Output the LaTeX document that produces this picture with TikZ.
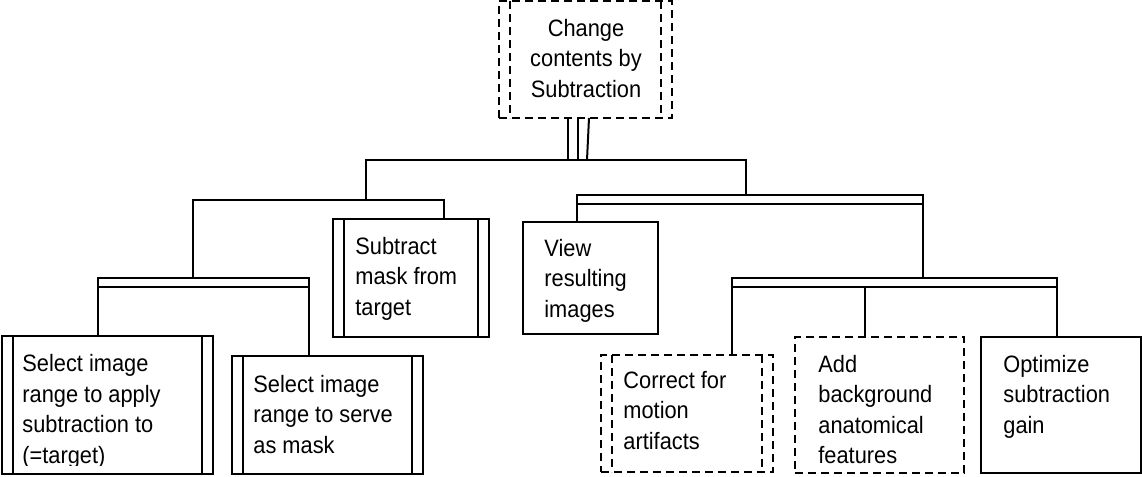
\documentclass[tikz,border=0pt]{standalone}
\usepackage{fontspec}
\newfontfamily\narrowfont[FakeStretch=0.92]{Liberation Sans}
\usetikzlibrary{positioning}

\tikzset{
  frame/.style={draw,line width=1pt,inner sep=0pt,outer sep=0pt,anchor=north west},
  dashframe/.style={frame,dash pattern=on 4pt off 2.5pt},
  sides/.style={path picture={
    \draw[line width=1pt,#1] ([xshift=5.5pt]path picture bounding box.north west) -- ([xshift=5.5pt]path picture bounding box.south west)
      ([xshift=-5.5pt]path picture bounding box.north east) -- ([xshift=-5.5pt]path picture bounding box.south east);}},
  sides/.default={},
  tasktext/.style={inner sep=0pt,anchor=base west,align=left,font=\narrowfont\fontsize{11.85}{15.25}\selectfont},
  link/.style={line width=1pt}
}

\begin{document}
\begin{tikzpicture}[x=0.5pt,y=-0.5pt]
\useasboundingbox (0,0) rectangle (1142,477);
% boxes (text nodes sit on the baseline of their last line)
\node[dashframe,sides={dash pattern=on 4pt off 2.5pt},minimum width=86.5pt,minimum height=58.5pt] (root) at (499,1) {};
\node[tasktext,anchor=base,align=center] (rootT) at (586,97) {Change\\contents by\\Subtraction};
\node[frame,sides,minimum width=105.5pt,minimum height=69pt] (sel) at (2,336) {};
\begin{scope}
\clip (2,336) rectangle (213,465);
\node[tasktext] (selT) at (22,463) {Select image\\range to apply\\subtraction to\\(=target)};
\end{scope}
\node[frame,sides,minimum width=95.5pt,minimum height=59pt] (mask) at (232,356) {};
\node[tasktext] (maskT) at (253,453) {Select image\\range to serve\\as mask};
\node[frame,sides,minimum width=78pt,minimum height=59pt] (sub) at (333,219) {};
\node[tasktext] (subT) at (355,315) {Subtract\\mask from\\target};
\node[frame,minimum width=67.5pt,minimum height=56pt] (view) at (523,222) {};
\node[tasktext] (viewT) at (544,317) {View\\resulting\\images};
\node[dashframe,sides={dash pattern=on 4pt off 2.5pt},minimum width=86pt,minimum height=58.5pt] (corr) at (601,355) {};
\node[tasktext] (corrT) at (623,449) {Correct for\\motion\\artifacts};
\node[dashframe,minimum width=84.5pt,minimum height=68pt] (add) at (795,337) {};
\node[tasktext] (addT) at (818,463.5) {Add\\background\\anatomical\\features};
\node[frame,minimum width=80pt,minimum height=68pt] (opt) at (981,337) {};
\node[tasktext] (optT) at (1003,433) {Optimize\\subtraction\\gain};

% junctions
\coordinate (topL) at (366,160);
\coordinate (topR) at (746,160);
\coordinate (lbW) at (193,200);
\coordinate (lbE) at (444,200);
\coordinate (llW) at (98,278);
\coordinate (llE) at (309,278);
\coordinate (rbW) at (577,195);
\coordinate (rbE) at (923,195);
\coordinate (rrW) at (732,278);
\coordinate (rrE) at (1057,278);
\coordinate (rrM) at (865,287);

% connectors
\draw[link] ([xshift=-8.75pt]root.south) -- ([xshift=-8.75pt]root.south |- topL);
\draw[link] ([xshift=-3.75pt]root.south) -- ([xshift=-3.75pt]root.south |- topL);
\draw[link] ([xshift=1.75pt]root.south) -- ([xshift=0.75pt]root.south |- topL);
\draw[link] (topL |- lbW) -- (topL) -- (topR) -- (topR |- rbW);
\draw[link] (lbW |- llW) -- (lbW) -- (lbE) -- (sub.north -| lbE);
\draw[link] (sel.north -| llW) -- (llW) -- (llE) -- (mask.north -| llE);
\draw[link] ([yshift=-4.5pt]llW) -- ([yshift=-4.5pt]llE);
\draw[link] (view.north -| rbW) -- (rbW) -- (rbE) -- (rbE |- rrW);
\draw[link] ([yshift=-4.5pt]rbW) -- ([yshift=-4.5pt]rbE);
\draw[link] (corr.north -| rrW) -- (rrW) -- (rrE) -- (opt.north -| rrE);
\draw[link] ([yshift=-4.5pt]rrW) -- ([yshift=-4.5pt]rrE);
\draw[link] (rrM) -- (add.north -| rrM);
\end{tikzpicture}
\end{document}
